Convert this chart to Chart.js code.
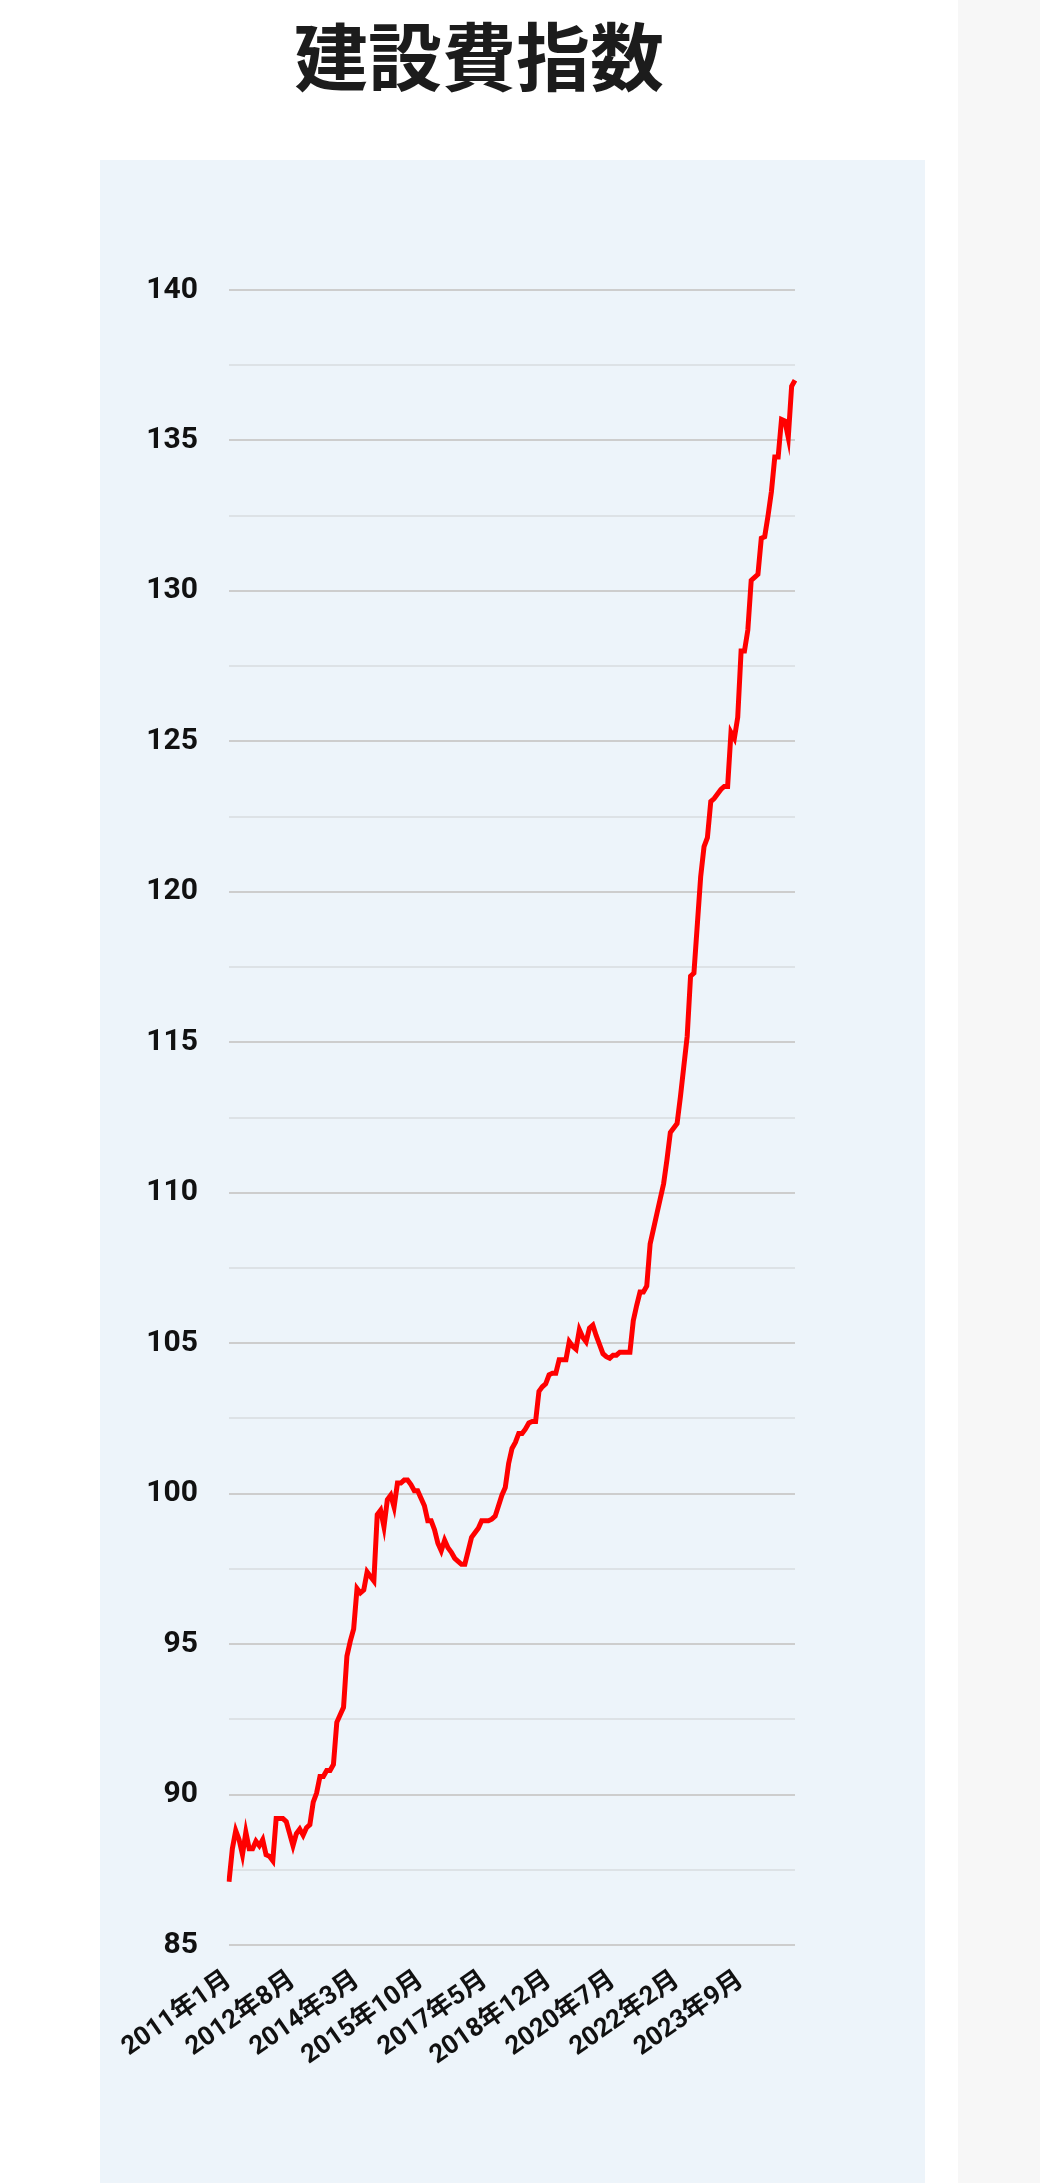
<!DOCTYPE html>
<html lang="ja">
<head>
<meta charset="utf-8">
<title>建設費指数</title>
<script src="https://cdn.jsdelivr.net/npm/chart.js"></script>
<style>
    html, body { margin: 0; padding: 0; background: #fff; }
    body { width: 1040px; height: 2183px; position: relative; overflow: hidden; }
    .side { position: absolute; left: 958px; top: 0; width: 82px; height: 2183px; background: #f7f7f7; }
    h1 {
        position: absolute; left: 0; top: 16px; width: 958px; margin: 0;
        text-align: center; color: #1c1c1c;
        font: bold 74px/74px "Noto Sans CJK JP", sans-serif;
    }
    .panel { position: absolute; left: 100px; top: 160px; width: 825px; height: 2023px; background: #edf4fa; }
    .panel canvas { position: absolute; left: 0; top: 0; }
</style>
</head>
<body>
<div class="side"></div>
<h1>建設費指数</h1>
<div class="panel">
    <canvas id="cost-chart" width="825" height="2023"></canvas>
</div>

<script>
// monthly index, 2011年1月 .. 2025年1月
const startYear = 2011
const monthCount = 169
const months = []
for (let i = 0; i < monthCount; i++) {
    months.push(`${startYear + Math.floor(i / 12)}年${(i % 12) + 1}月`)
}

const tickLabels = ["2011年1月", "2012年8月", "2014年3月", "2015年10月", "2017年5月",
    "2018年12月", "2020年7月", "2022年2月", "2023年9月"]

const yTicks = [85, 90, 95, 100, 105, 110, 115, 120, 125, 130, 135, 140]

const indexValues = [
    // 2011
    87.1, 88.2, 88.8, 88.5, 88.0, 88.75, 88.2, 88.2, 88.45, 88.3, 88.5, 88.0,
    // 2012
    87.95, 87.8, 89.2, 89.2, 89.2, 89.1, 88.7, 88.3, 88.7, 88.85, 88.65, 88.9,
    // 2013
    89.0, 89.75, 90.05, 90.6, 90.6, 90.8, 90.8, 91.0, 92.4, 92.65, 92.9, 94.6,
    // 2014
    95.1, 95.5, 96.85, 96.7, 96.8, 97.4, 97.25, 97.1, 99.3, 99.45, 98.9, 99.8,
    // 2015
    99.95, 99.55, 100.35, 100.35, 100.45, 100.45, 100.3, 100.1, 100.1, 99.85, 99.6, 99.1,
    // 2016
    99.1, 98.8, 98.35, 98.1, 98.45, 98.2, 98.05, 97.85, 97.75, 97.65, 97.65, 98.1,
    // 2017
    98.55, 98.7, 98.85, 99.1, 99.1, 99.1, 99.15, 99.25, 99.6, 99.95, 100.2, 101.0,
    // 2018
    101.5, 101.7, 102.0, 102.0, 102.15, 102.35, 102.4, 102.4, 103.4, 103.55, 103.65, 103.95,
    // 2019
    104.0, 104.0, 104.45, 104.45, 104.45, 105.05, 104.9, 104.8, 105.45, 105.2, 105.05, 105.5,
    // 2020
    105.6, 105.25, 104.95, 104.65, 104.55, 104.5, 104.6, 104.6, 104.7, 104.7, 104.7, 104.7,
    // 2021
    105.75, 106.25, 106.7, 106.7, 106.9, 108.3, 108.8, 109.3, 109.8, 110.3, 111.1, 112.0,
    // 2022
    112.15, 112.3, 113.2, 114.2, 115.2, 117.2, 117.3, 118.9, 120.5, 121.5, 121.8, 123.0,
    // 2023
    123.1, 123.25, 123.4, 123.5, 123.5, 125.3, 125.1, 125.8, 128.0, 128.0, 128.7, 130.35,
    // 2024
    130.45, 130.55, 131.75, 131.8, 132.5, 133.3, 134.45, 134.45, 135.7, 135.65, 135.1, 136.8,
    // 2025
    137.0
]

const tickFont = "Roboto, 'Noto Sans CJK JP', sans-serif"

let costChart = new Chart(document.getElementById("cost-chart").getContext("2d"), {
    type: "line",
    data: {
        labels: months,
        datasets: [{
            label: "建設費指数",
            data: indexValues,
            borderColor: "#ff0000",
            borderWidth: 5,
            pointRadius: 0,
            tension: 0,
            fill: false,
        }],
    },
    options: {
        responsive: false,
        animation: false,
        layout: {
            padding: { left: 0, right: 130, top: 130, bottom: 88 },
        },
        plugins: {
            legend: { display: false },
            tooltip: { enabled: false },
        },
        scales: {
            x: {
                grid: { display: false, drawTicks: false },
                border: { display: false },
                afterFit: (scale) => { scale.height = 150 },
                ticks: {
                    autoSkip: false,
                    minRotation: 35,
                    maxRotation: 35,
                    padding: 20,
                    color: "#111",
                    font: { family: tickFont, size: 26, weight: "bold" },
                    callback: function (value) {
                        const lab = this.getLabelForValue(value)
                        return tickLabels.includes(lab) ? lab : ""
                    },
                },
            },
            y: {
                min: 85,
                max: 140,
                border: { display: false },
                afterFit: (scale) => { scale.width = 129 },
                grid: {
                    drawTicks: false,
                    lineWidth: 2,
                    color: (ctx) => (ctx.tick && yTicks.includes(ctx.tick.value)) ? "#cdcdcd" : "#dde2e6",
                },
                ticks: {
                    stepSize: 2.5,
                    padding: 31,
                    color: "#111",
                    font: { family: tickFont, size: 30, weight: "bold" },
                    callback: (value) => yTicks.includes(value) ? value : "",
                },
            },
        },
    },
})
</script>
</body>
</html>
